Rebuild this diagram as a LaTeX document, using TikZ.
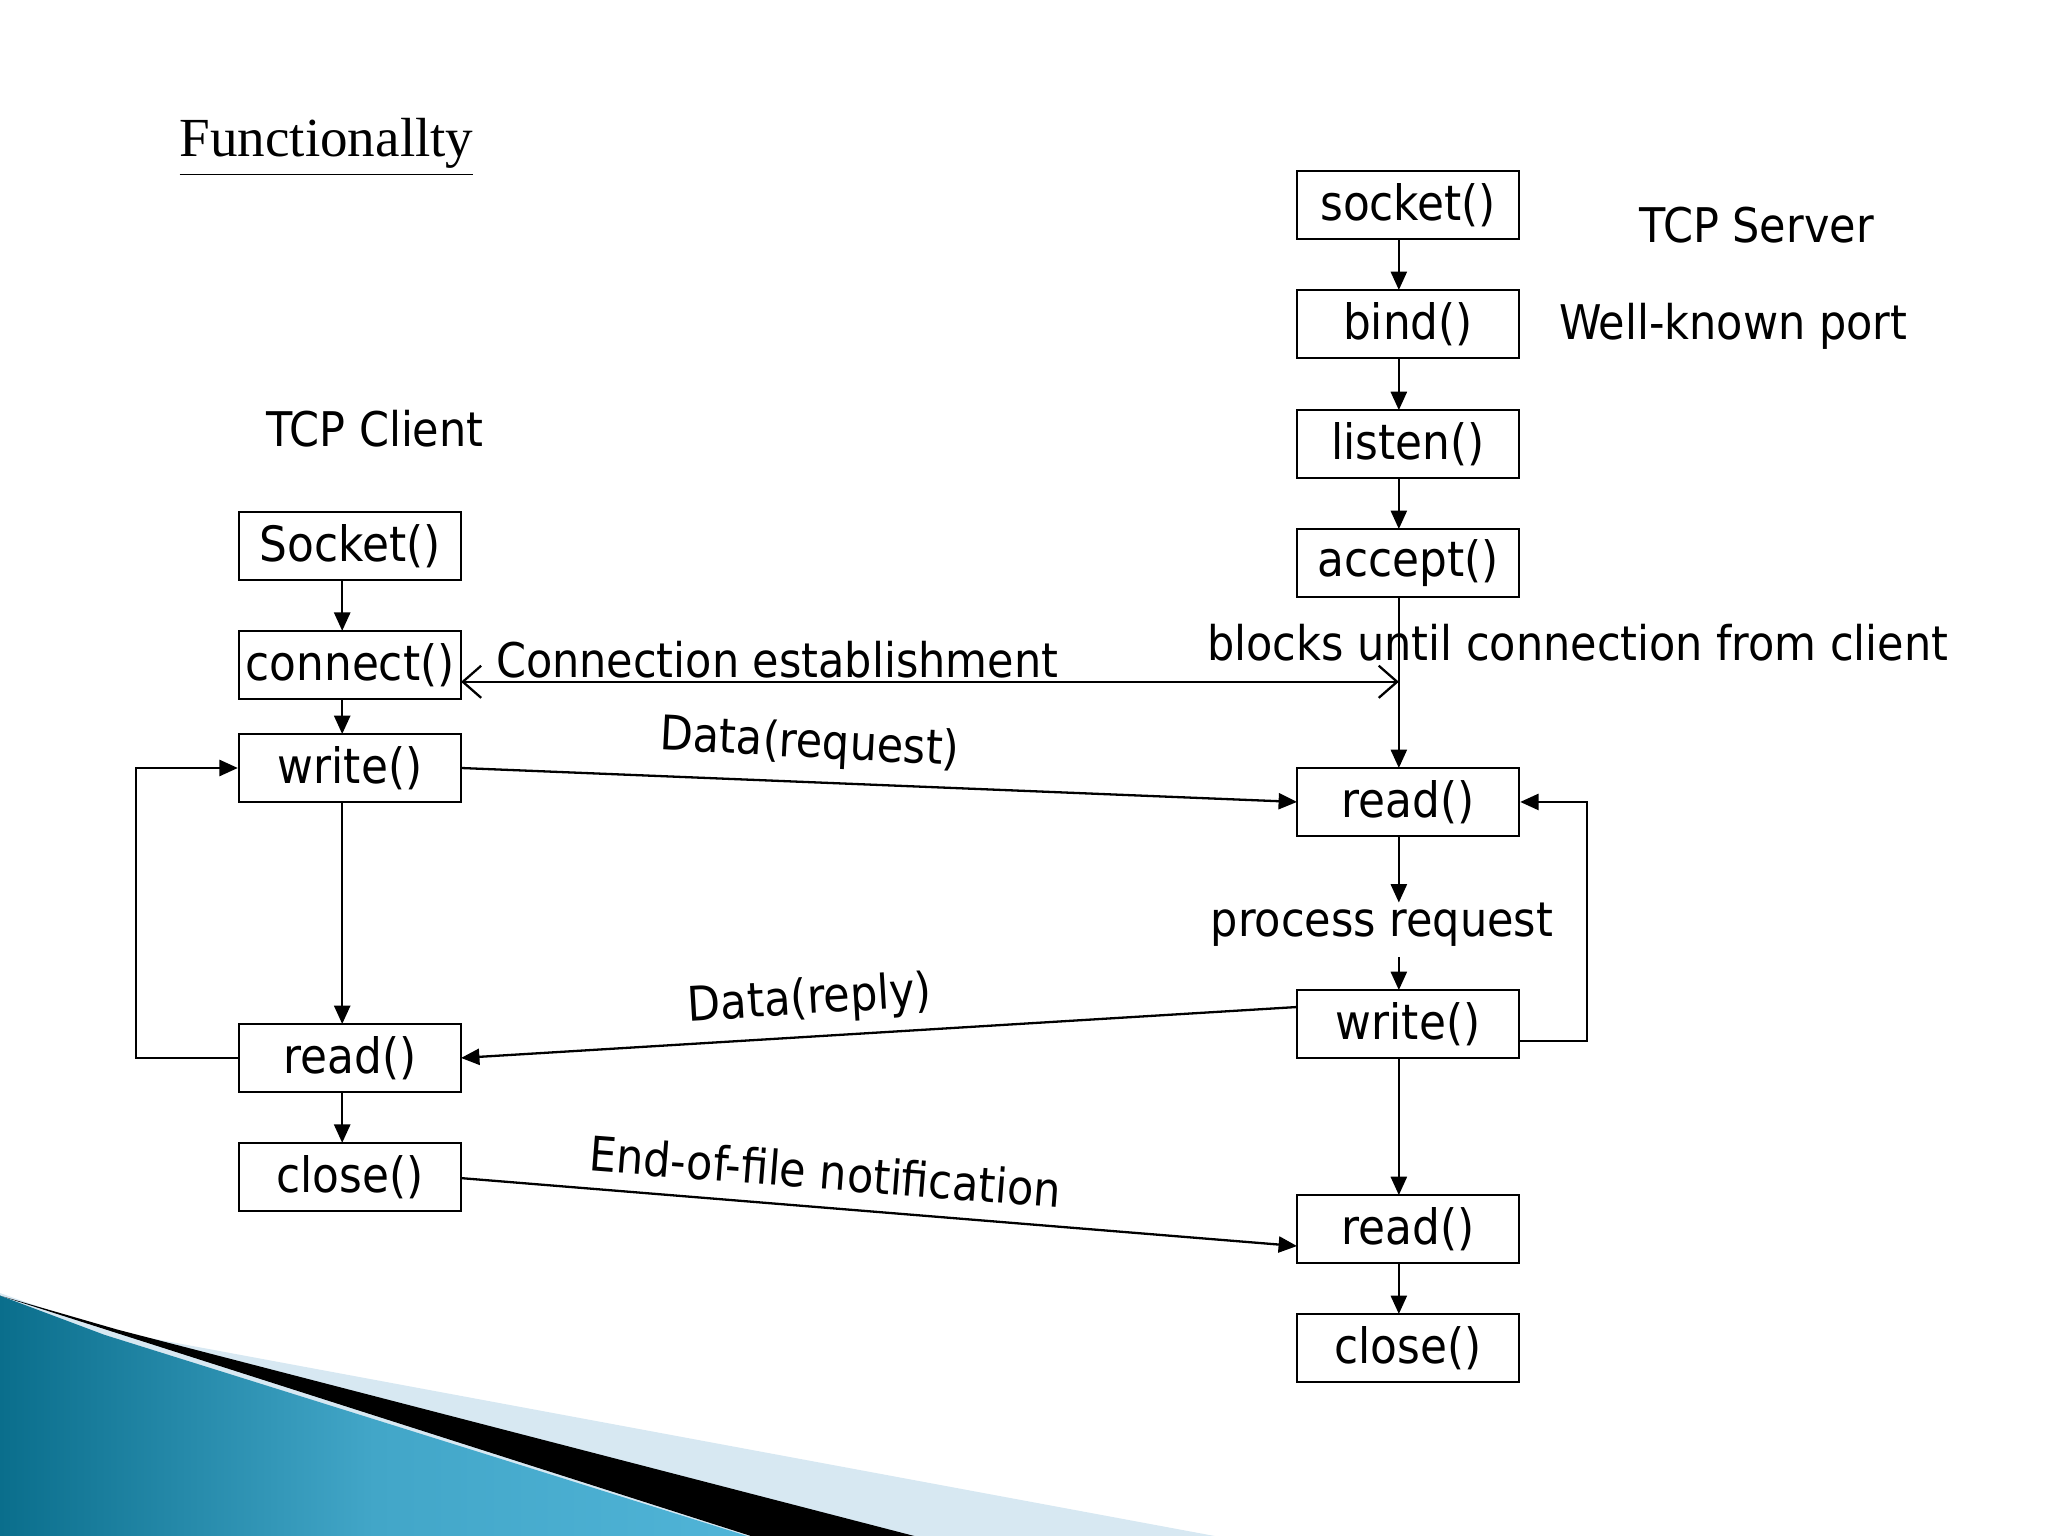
\documentclass[tikz,border=0pt]{standalone}
\usepackage{fontspec}
\setmainfont{DejaVu Sans Condensed}
\newfontfamily\tserif{Liberation Serif}
\usetikzlibrary{arrows.meta}
\definecolor{teal1}{RGB}{10,110,140}
\definecolor{teal2}{RGB}{80,180,215}
\definecolor{lb}{RGB}{215,232,242}
\begin{document}
\begin{tikzpicture}[x=0.01cm,y=-0.01cm,
 box/.style={draw,line width=0.5pt,minimum width=1.70cm,minimum height=0.52cm,inner sep=0pt,font=\fontsize{10.6}{12}\selectfont},
 lab/.style={font=\fontsize{10.4}{12}\selectfont,inner sep=0pt},
 ar/.style={-{Triangle[length=4pt,width=3.5pt]},line width=0.5pt}]
\useasboundingbox (0,0) rectangle (1568,1176);
% decoration
\fill[lb] (0,990) -- (80,1018) -- (930,1176) -- (0,1176) -- cycle;
\fill[black] (0,992) -- (90,1018) -- (700,1176) -- (575,1176) -- cycle;
\shade[left color=teal1, right color=teal2, middle color=teal2!80!teal1] (0,992) -- (80,1022) -- (572,1176) -- (0,1176) -- cycle;
% title
\node[font=\tserif\fontsize{12}{13}\selectfont,inner sep=0pt] (title) at (250,113) {\underline{Functionallty}};
% server
\node[box] (ss) at (1078,157) {socket()};
\node[box] (sb) at (1078,248) {bind()};
\node[box] (sl) at (1078,340) {listen()};
\node[box] (sa) at (1078,431) {accept()};
\node[box] (sr) at (1078,614) {read()};
\node[box] (sw) at (1078,784) {write()};
\node[box] (sr2) at (1078,941) {read()};
\node[box] (sc) at (1078,1032) {close()};
\node[lab] (tsrv) at (1345,172) {TCP Server};
\node[lab] (wkp) at (1327,250) {Well-known port};
\node[lab] (blk) at (1208,492) {blocks until connection from client};
\node[lab] (proc) at (1058,708) {process request};
% client
\node[box] (cs) at (268,418) {Socket()};
\node[box] (cc) at (268,509) {connect()};
\node[box] (cw) at (268,588) {write()};
\node[box] (cr) at (268,810) {read()};
\node[box] (ccl) at (268,901) {close()};
\node[lab] (tcl) at (287,328) {TCP Client};
% server arrows
\draw[ar] (1071,183) -- (1071,222);
\draw[ar] (1071,274) -- (1071,314);
\draw[ar] (1071,366) -- (1071,405);
\draw[ar] (1071,457) -- (1071,588);
\draw[ar] (1071,640) -- (1071,691);
\draw[ar] (1071,733) -- (1071,758);
\draw[ar] (1071,810) -- (1071,915);
\draw[ar] (1071,967) -- (1071,1006);
\draw[ar] (1163,797) -- (1215,797) |- (sr.east);
% client arrows
\draw[ar] (262,444) -- (262,483);
\draw[ar] (262,535) -- (262,562);
\draw[ar] (262,614) -- (262,784);
\draw[ar] (262,836) -- (262,875);
\draw[ar] (cr.west) -- (104,810) |- (cw.west);
% cross
\coordinate (ce) at (1071,522);
\draw[{Straight Barb[length=4pt,width=7pt]}-{Straight Barb[length=4pt,width=7pt]},line width=0.5pt] (353,522) -- (ce);
\node[lab] (conn) at (595,505) {Connection establishment};
\draw[ar] (353,588) -- (993,614);
\node[lab,rotate=-3] (dreq) at (620,570) {Data(request)};
\draw[ar] (993,771) -- (353,810);
\node[lab,rotate=3.5] (drep) at (620,766) {Data(reply)};
\draw[ar] (353,902) -- (993,954);
\node[lab,rotate=-4.5] (eof) at (632,897) {End-of-file notification};
\end{tikzpicture}
\end{document}
